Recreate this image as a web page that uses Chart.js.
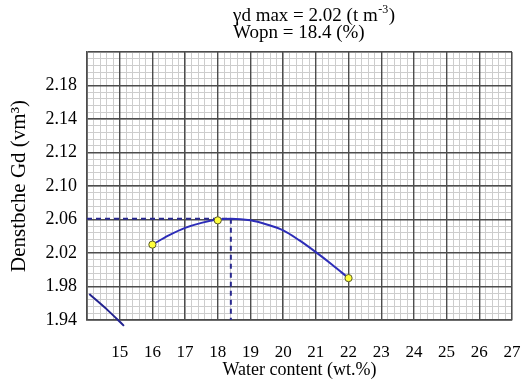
<!DOCTYPE html>
<html>
<head>
<meta charset="utf-8">
<script src="https://cdn.jsdelivr.net/npm/chart.js@4.4.1/dist/chart.umd.min.js"></script>
<style>
html,body{margin:0;padding:0;background:#ffffff;}
#wrap{width:525px;height:383px;position:relative;}
canvas{display:block;}
</style>
</head>
<body>
<div id="wrap"><canvas id="c" width="525" height="383"></canvas></div>
<script>
// ---- data ----
const measuredWater   = [16, 18, 22];
const measuredDensity = [2.030, 2.059, 1.990];

const curveWater   = [16, 16.5, 17, 17.5, 18, 18.4, 19, 19.5, 20, 20.5, 21, 21.5, 22];
const curveDensity = [2.030, 2.041, 2.050, 2.056, 2.060, 2.061, 2.059, 2.054, 2.047, 2.035, 2.021, 2.006, 1.990];

const lowWater   = [14.07, 14.6, 15.13];
const lowDensity = [1.971, 1.953, 1.933];

const optimumWater    = 18.4;
const maxDensityLevel = 2.061;

const xTickValues = [14, 15, 16, 17, 18, 19, 20, 21, 22, 23, 24, 25, 26, 27];
const xTickLabels = ['', '15', '16', '17', '18', '19', '20', '21', '22', '23', '24', '25', '26', '27'];
const yTickLabels = ['1.94', '1.98', '2.02', '2.06', '2.10', '2.12', '2.14', '2.18', ''];

const titleLine1 = 'γd max = 2.02 (t m';
const titleSup   = '-3';
const titleLine1End = ')';
const titleLine2 = 'Wopn = 18.4 (%)';
const xTitle = 'Water content (wt.%)';
const yTitle = 'Denstbche Gd (vm³)';

// ---- helpers ----
const pts = (xs, ys) => xs.map((x, i) => ({x: x, y: ys[i]}));
const SERIF = '"Liberation Serif", "Times New Roman", serif';
const X_MIN = xTickValues[0], X_MAX = xTickValues[xTickValues.length - 1];
const Y_MIN = 1.94, Y_STEP = 0.04, Y_MAX = Y_MIN + Y_STEP * (yTickLabels.length - 1);

const headerPlugin = {
  id: 'header',
  afterDraw(chart) {
    const ctx = chart.ctx;
    ctx.save();
    ctx.fillStyle = '#000';
    ctx.textBaseline = 'alphabetic';
    ctx.textAlign = 'left';
    const x0 = 233;
    ctx.font = '19px ' + SERIF;
    ctx.fillText(titleLine1, x0, 21);
    let w = ctx.measureText(titleLine1).width;
    ctx.font = '12px ' + SERIF;
    ctx.fillText(titleSup, x0 + w + 0.5, 13);
    const ws = ctx.measureText(titleSup).width;
    ctx.font = '19px ' + SERIF;
    ctx.fillText(titleLine1End, x0 + w + ws + 1, 21);
    ctx.fillText(titleLine2, x0, 38);
    ctx.restore();
  }
};

new Chart(document.getElementById('c'), {
  type: 'scatter',
  data: {
    datasets: [
      {
        label: 'Measured',
        data: pts(measuredWater, measuredDensity),
        showLine: false,
        pointRadius: 3.6,
        pointBackgroundColor: '#ffff3c',
        pointBorderColor: '#5a5a2a',
        pointBorderWidth: 1,
        order: 0
      },
      {
        label: 'Compaction curve',
        data: pts(curveWater, curveDensity),
        showLine: true,
        borderColor: '#2d2db8',
        borderWidth: 2,
        pointRadius: 0,
        tension: 0.4,
        cubicInterpolationMode: 'monotone',
        order: 1
      },
      {
        label: 'Saturation line',
        data: pts(lowWater, lowDensity),
        showLine: true,
        borderColor: '#23238f',
        borderWidth: 2,
        pointRadius: 0,
        tension: 0.3,
        clip: false,
        order: 2
      },
      {
        label: 'Max density level',
        data: [{x: X_MIN, y: maxDensityLevel}, {x: optimumWater, y: maxDensityLevel}],
        showLine: true,
        borderColor: '#28288f',
        borderWidth: 2,
        borderDash: [5, 4],
        pointRadius: 0,
        order: 3
      },
      {
        label: 'Optimum water',
        data: [{x: optimumWater, y: maxDensityLevel}, {x: optimumWater, y: Y_MIN}],
        showLine: true,
        borderColor: '#28288f',
        borderWidth: 2,
        borderDash: [5, 4],
        pointRadius: 0,
        order: 4
      }
    ]
  },
  options: {
    responsive: false,
    animation: false,
    devicePixelRatio: 1,
    layout: {padding: {top: 52, right: 13, bottom: 0, left: 0}},
    plugins: {
      legend: {display: false},
      tooltip: {enabled: false},
      title: {display: false}
    },
    scales: {
      xMinor: {
        type: 'linear', position: 'bottom', min: X_MIN, max: X_MAX,
        ticks: {display: false, stepSize: 0.2, autoSkip: false},
        grid: {color: '#cdcdcd', lineWidth: 1, drawTicks: false, z: -2},
        border: {display: false}
      },
      yMinor: {
        type: 'linear', position: 'left', min: Y_MIN, max: Y_MAX,
        ticks: {display: false, stepSize: Y_STEP / 5, autoSkip: false},
        grid: {color: '#cdcdcd', lineWidth: 1, drawTicks: false, z: -2},
        border: {display: false}
      },
      x: {
        type: 'linear', position: 'bottom', min: X_MIN, max: X_MAX,
        afterBuildTicks(scale) { scale.ticks = xTickValues.map(v => ({value: v})); },
        afterFit(scale) { scale.height = 63; },
        ticks: {
          autoSkip: false, maxRotation: 0, padding: 0, color: '#000',
          font: {family: SERIF, size: 17},
          callback(value) { const i = xTickValues.indexOf(value); return i >= 0 ? xTickLabels[i] : ''; }
        },
        grid: {color: '#4d4d4d', lineWidth: 1.4, drawTicks: true, tickLength: 22, tickColor: 'rgba(0,0,0,0)', z: -1},
        border: {display: true, color: '#4d4d4d', width: 1.6},
        title: {display: true, text: xTitle, color: '#000', font: {family: SERIF, size: 18}, padding: {top: 0, bottom: 2}}
      },
      y: {
        type: 'linear', position: 'left', min: Y_MIN, max: Y_MAX,
        afterBuildTicks(scale) { scale.ticks = yTickLabels.map((l, i) => ({value: Y_MIN + i * Y_STEP})); },
        afterFit(scale) { scale.width = 87; },
        ticks: {
          autoSkip: false, padding: 10, color: '#000',
          font: {family: SERIF, size: 18},
          callback(value) { const i = Math.round((value - Y_MIN) / Y_STEP); return yTickLabels[i] !== undefined ? yTickLabels[i] : ''; }
        },
        grid: {color: '#4d4d4d', lineWidth: 1.4, drawTicks: false, z: -1},
        border: {display: true, color: '#4d4d4d', width: 1.6},
        title: {display: true, text: yTitle, color: '#000', font: {family: SERIF, size: 21}, padding: {top: 7, bottom: 0}}
      }
    }
  },
  plugins: [headerPlugin]
});
</script>
</body>
</html>
